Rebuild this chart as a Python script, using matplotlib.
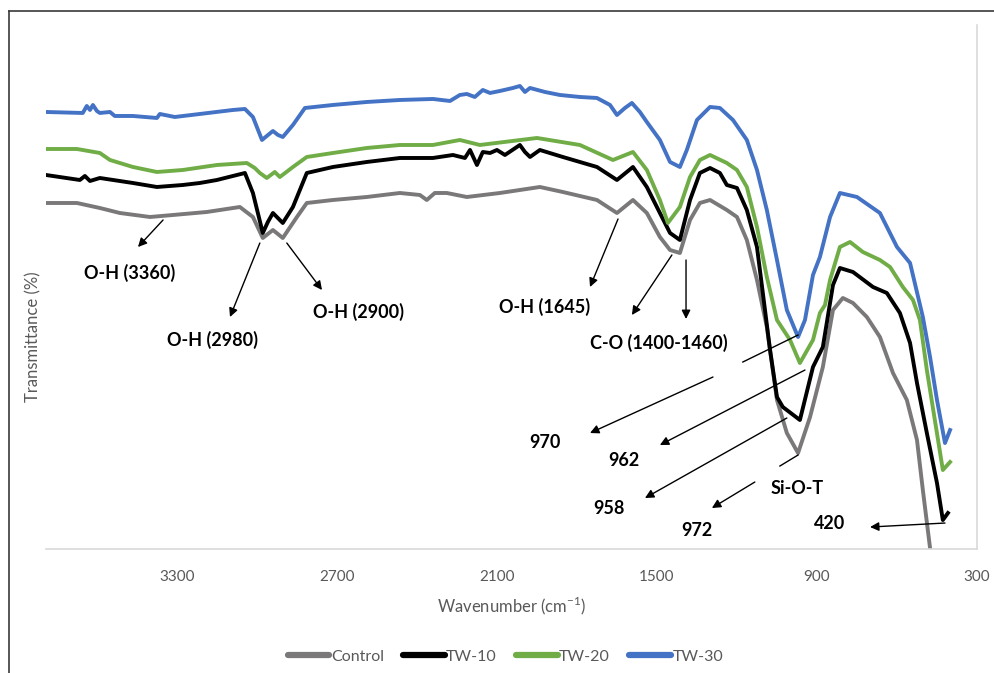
import numpy as np
import matplotlib
matplotlib.use("Agg")
import matplotlib.pyplot as plt
from matplotlib.lines import Line2D

plt.rcParams['font.family'] = ['Lato', 'DejaVu Sans']
plt.rcParams['mathtext.fontset'] = 'custom'
plt.rcParams['mathtext.rm'] = 'Lato'

# ---- data (wavenumber cm-1, transmittance arb.) ----
wn_tw30 = [3791, 3653, 3638, 3626, 3615, 3600, 3589, 3551, 3533, 3465, 3375, 3364, 3308, 3214,
           3090, 3045, 3015, 2981, 2963, 2940, 2921, 2903, 2865, 2820, 2715, 2588, 2464, 2340,
           2276, 2239, 2213, 2183, 2153, 2126, 2089, 2040, 2014, 1995, 1976, 1920, 1864, 1789,
           1725, 1676, 1650, 1620, 1594, 1564, 1538, 1489, 1451, 1414, 1388, 1350, 1301, 1264,
           1215, 1163, 1125, 1088, 1050, 1013, 971, 945, 915, 889, 851, 814, 750, 664, 600, 551,
           503, 476, 450, 420, 401]
t_tw30 = [87.4, 87.2, 88.6, 87.8, 88.8, 87.6, 87.2, 87.4, 86.6, 86.6, 86.2, 87.0, 86.4, 87.0,
          87.8, 88.0, 86.4, 81.8, 82.6, 83.6, 82.8, 82.4, 84.8, 88.2, 88.8, 89.4, 89.8, 90.0,
          89.6, 90.8, 91.0, 90.4, 91.8, 91.2, 91.6, 92.2, 92.6, 91.4, 92.2, 91.4, 90.8, 90.4,
          90.2, 88.8, 86.8, 88.2, 89.2, 87.4, 85.4, 81.8, 77.4, 76.4, 79.8, 85.8, 88.4, 88.2,
          85.8, 81.8, 75.8, 67.8, 57.8, 47.8, 42.4, 45.8, 54.8, 58.4, 66.4, 71.2, 70.4, 67.2,
          60.4, 57.2, 46.4, 38.4, 29.8, 21.2, 23.8]

wn_tw20 = [3791, 3675, 3589, 3551, 3465, 3375, 3278, 3150, 3038, 3008, 2989, 2963, 2933, 2914,
           2865, 2813, 2715, 2588, 2464, 2340, 2239, 2164, 1950, 1789, 1665, 1590, 1538, 1489,
           1459, 1414, 1376, 1339, 1301, 1238, 1200, 1163, 1125, 1088, 1050, 1001, 964, 915,
           889, 870, 851, 814, 776, 728, 664, 626, 578, 540, 514, 488, 446, 428, 401]
t_tw20 = [80.0, 80.0, 79.2, 77.8, 76.4, 75.4, 75.8, 76.8, 77.2, 76.2, 75.2, 74.2, 75.4, 74.4,
          76.4, 78.4, 79.2, 80.2, 80.8, 80.8, 81.8, 80.8, 82.2, 80.8, 77.8, 79.4, 75.8, 69.8,
          65.2, 68.4, 74.4, 77.8, 78.8, 77.2, 75.8, 72.4, 64.4, 54.4, 45.8, 41.8, 37.2, 41.8,
          47.2, 48.8, 53.8, 60.4, 61.4, 59.4, 57.8, 56.4, 52.4, 49.8, 45.8, 35.8, 21.8, 15.8, 17.4]

wn_tw10 = [3791, 3664, 3645, 3626, 3589, 3465, 3375, 3278, 3214, 3150, 3045, 3015, 2978, 2959,
           2940, 2903, 2865, 2813, 2715, 2588, 2464, 2340, 2265, 2220, 2201, 2175, 2153, 2126,
           2100, 2070, 2014, 1995, 1976, 1939, 1853, 1725, 1650, 1590, 1538, 1489, 1451, 1414,
           1376, 1339, 1301, 1264, 1238, 1200, 1163, 1125, 1103, 1076, 1050, 1028, 964, 915,
           878, 840, 814, 765, 690, 638, 589, 551, 525, 488, 450, 428, 409]
t_tw10 = [74.8, 73.8, 74.6, 73.6, 74.2, 73.2, 72.4, 72.8, 73.2, 73.8, 75.2, 71.2, 63.2, 65.4,
          67.2, 65.2, 68.4, 75.2, 76.4, 77.4, 78.2, 78.2, 78.8, 78.2, 79.8, 76.8, 79.4, 79.2,
          79.8, 78.8, 80.8, 79.4, 78.4, 79.8, 78.4, 76.4, 73.8, 76.4, 72.4, 67.2, 63.2, 61.8,
          69.8, 75.2, 76.2, 75.2, 72.8, 72.2, 67.8, 60.4, 51.2, 39.8, 30.4, 28.4, 25.8, 36.4,
          40.4, 52.8, 56.2, 55.4, 52.4, 51.2, 47.2, 41.2, 33.2, 23.2, 13.2, 5.8, 7.2]

wn_ctrl = [3791, 3675, 3589, 3514, 3401, 3315, 3188, 3064, 3015, 2978, 2940, 2903, 2850, 2813,
           2715, 2588, 2464, 2389, 2363, 2333, 2288, 2213, 2089, 1939, 1853, 1725, 1650, 1590,
           1538, 1489, 1451, 1414, 1376, 1339, 1301, 1238, 1200, 1163, 1125, 1088, 1050, 1013,
           971, 926, 878, 840, 803, 765, 713, 664, 615, 563, 525, 503, 476, 458]
t_ctrl = [69.2, 69.2, 68.2, 67.2, 66.4, 66.8, 67.4, 68.4, 66.4, 62.2, 63.8, 62.2, 66.4, 69.2,
          69.8, 70.4, 71.2, 70.8, 69.8, 71.2, 71.2, 70.4, 71.2, 72.4, 71.4, 69.8, 67.2, 69.8,
          67.2, 62.4, 59.8, 59.2, 65.8, 69.2, 69.8, 67.8, 66.4, 61.8, 53.8, 44.4, 29.8, 23.2,
          19.2, 26.4, 36.4, 47.8, 50.2, 49.2, 46.4, 42.4, 35.2, 29.8, 21.8, 11.8, 0.2, -6.2]

series = ['Control', 'TW-10', 'TW-20', 'TW-30']
colors = ['#7a7878', '#000000', '#70ad47', '#4472c4']

# labels: text, text position, list of (tail, head, arrow?) segments
labels = [
    ('O-H (3360)', (3476, 55.2), [((3352, 65.8), (3446, 60.4), True)]),
    ('O-H (2980)', (3165, 41.8), [((2989, 61.2), (3101, 46.4), True)]),
    ('O-H (2900)', (2618, 47.4), [((2888, 61.2), (2756, 51.8), True)]),
    ('O-H (1645)', (1920, 48.4), [((1646, 66.0), (1751, 52.4), True)]),
    ('C-O (1400-1460)', (1493, 41.2), [((1444, 58.8), (1594, 46.8), True),
                                       ((1391, 57.8), (1391, 46.0), True)]),
    ('970', (1920, 21.4), [((971, 42.8), (1178, 37.4), False),
                           ((1290, 34.4), (1751, 23.2), True)]),
    ('962', (1624, 17.8), [((945, 35.8), (1489, 20.8), True)]),
    ('958', (1680, 8.2), [((1013, 26.2), (1545, 10.2), True)]),
    ('972', (1350, 3.8), [((971, 18.8), (1039, 16.6), False),
                          ((1133, 13.4), (1294, 8.2), True)]),
    ('Si-O-T', (975, 12.2), []),
    ('420', (851, 5.2), [((420, 5.2), (701, 4.4), True)]),
]

fig = plt.figure(figsize=(9.95, 6.73), dpi=100)
ax = fig.add_axes([0.0462, 0.1842, 0.9357, 0.7787])

data = [(wn_ctrl, t_ctrl), (wn_tw10, t_tw10), (wn_tw20, t_tw20), (wn_tw30, t_tw30)]
for (x, y), name, c in zip(data, series, colors):
    ax.plot(x, y, color=c, lw=2.8, label=name, solid_joinstyle='round')

ax.set_xlim(3791, 300)
ax.set_ylim(0, 104.8)
ax.set_xticks([3300, 2700, 2100, 1500, 900, 300])
ax.set_yticks([])
ax.tick_params(axis='x', length=0, pad=15, labelsize=11, labelcolor='#595959')
for s in ['top', 'left']:
    ax.spines[s].set_visible(False)
for s in ['bottom', 'right']:
    ax.spines[s].set_color('#d9d9d9')
    ax.spines[s].set_linewidth(1.2)
ax.set_xlabel('Wavenumber (cm$^{-1}$)', fontsize=12, color='#595959', labelpad=8)

for txt, pos, segs in labels:
    ax.text(pos[0], pos[1], txt, ha='center', va='center', fontsize=13,
            fontweight='bold', color='black')
    for tail, head, arrow in segs:
        if arrow:
            ax.annotate('', xy=head, xytext=tail,
                        arrowprops=dict(arrowstyle='-|>', color='black', lw=1.0,
                                        mutation_scale=13, shrinkA=0, shrinkB=0))
        else:
            ax.plot([tail[0], head[0]], [tail[1], head[1]], color='black', lw=1.0)

fig.text(33 / 995, 1 - 337 / 673, 'Transmittance (%)', rotation=90, ha='center',
         va='center', fontsize=12, color='#595959')

handles = [Line2D([], [], color=c, lw=4.5, solid_capstyle='round') for c in colors]
fig.legend(handles, series, loc='center', bbox_to_anchor=(0.508, 1 - 657 / 673), ncol=4,
           frameon=False, fontsize=11.5, handlelength=2.6, handletextpad=0.1,
           columnspacing=1.2, labelcolor='#595959')

# outer chart frame (partly cropped in the original)
fig.add_artist(Line2D([9 / 995, 9 / 995], [0, 1 - 11 / 673], color='#3a3a3a', lw=1.2))
fig.add_artist(Line2D([9 / 995, 1], [1 - 11 / 673, 1 - 11 / 673], color='#3a3a3a', lw=1.2))

fig.savefig('out.png', dpi=100)
